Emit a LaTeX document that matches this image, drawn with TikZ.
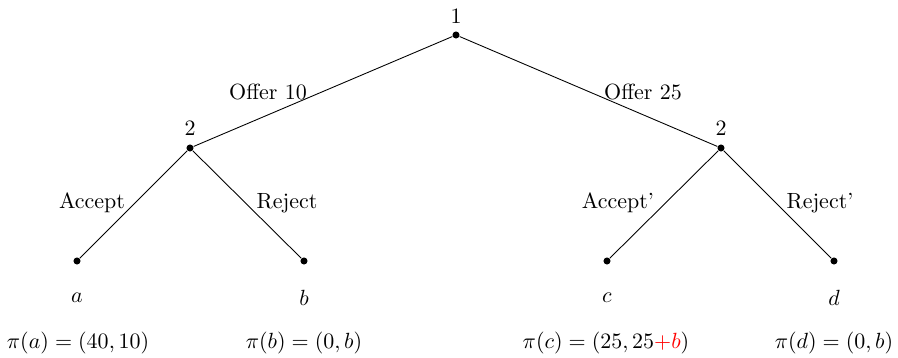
\documentclass[tikz,border=0pt]{standalone}
\usepackage{xcolor}
\begin{document}
\begin{tikzpicture}[x=0.455pt,y=-0.455pt,
  dot/.style={circle,fill=black,inner sep=0pt,minimum size=3.2pt},
  lbl/.style={inner sep=0pt},
  edge/.style={draw=black,line width=0.4pt}]
\useasboundingbox (0,0) rectangle (898,358);
\node[dot] (r) at (456,35) {};
\node[dot] (l) at (190,148) {};
\node[dot] (rr) at (721,148) {};
\node[dot] (la) at (77,261) {};
\node[dot] (lb) at (304,261) {};
\node[dot] (lc) at (607,261) {};
\node[dot] (ld) at (834,261) {};
\draw[edge] (r) -- (l);
\draw[edge] (r) -- (rr);
\draw[edge] (l) -- (la);
\draw[edge] (l) -- (lb);
\draw[edge] (rr) -- (lc);
\draw[edge] (rr) -- (ld);
\node[lbl] (t1) at (456,16) {1};
\node[lbl] (t2) at (190,128) {2};
\node[lbl] (t3) at (721,128) {2};
\node[lbl] (o10) at (268,92) {Offer 10};
\node[lbl] (o25) at (643,92) {Offer 25};
\node[lbl] (ac) at (92,203) {Accept};
\node[lbl] (rj) at (287,203) {Reject};
\node[lbl] (ac2) at (618,203) {Accept'};
\node[lbl] (rj2) at (820,203) {Reject'};
\node[lbl] (na) at (77,298) {$a$};
\node[lbl] (nb) at (304,298) {$b$};
\node[lbl] (nc) at (607,298) {$c$};
\node[lbl] (nd) at (834,298) {$d$};
\node[lbl] (pa) at (78,343) {$\pi(a)=(40,10)$};
\node[lbl] (pb) at (304,343) {$\pi(b)=(0,b)$};
\node[lbl] (pc) at (606,343) {$\pi(c)=(25,25{\color{red}+b})$};
\node[lbl] (pd) at (834,343) {$\pi(d)=(0,b)$};
\end{tikzpicture}
\end{document}
